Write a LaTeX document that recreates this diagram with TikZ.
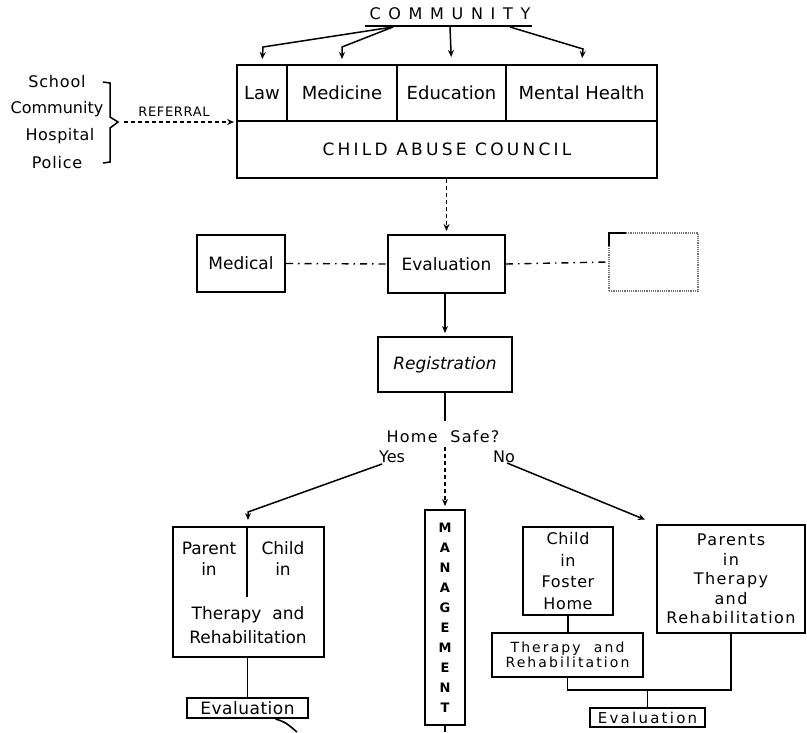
\documentclass[tikz,border=0pt]{standalone}
\usepackage{fontspec}
\setmainfont{DejaVu Sans}
\usetikzlibrary{arrows.meta}
\begin{document}
\begin{tikzpicture}[x=1pt,y=-1pt,
  box/.style={draw, line width=2pt, inner sep=0pt, align=center},
  lbl/.style={inner sep=0pt, align=center},
  ln/.style={line width=1.6pt},
  arr/.style={line width=1.5pt, -{Stealth[length=7pt,width=6pt]}},
  dsh/.style={line width=1.4pt, dash pattern=on 4pt off 3pt},
  dd/.style={line width=1.4pt, dash pattern=on 7pt off 5pt on 1.5pt off 5pt},
  fbig/.style={font=\fontsize{18}{21}\selectfont},
  fmid/.style={font=\fontsize{17}{20}\selectfont},
  fsm/.style={font=\fontsize{15}{18}\selectfont},
]
\useasboundingbox (0,0) rectangle (807,732);

% ---------- top: community ----------
\node[lbl, font=\fontsize{16}{19}\selectfont\addfontfeature{LetterSpace=48}] (comm) at (450,14) {COMMUNITY};
\coordinate (ulA) at (365,26);
\coordinate (ulB) at (532,26);
\draw[line width=1.3pt] (ulA) -- (ulB);
\coordinate (c1) at (393,27);
\coordinate (c2) at (450,27);
\coordinate (c3) at (510,27);
\coordinate (b1) at (263,47);
\coordinate (b2) at (342,47);
\coordinate (b4) at (583,49);

% ---------- council block ----------
\node[box, fbig, minimum width=50, minimum height=56] (law) at (262,93) {Law};
\node[box, fbig, minimum width=110, minimum height=56] (med) at (342,93) {Medicine};
\node[box, fbig, minimum width=109, minimum height=56] (edu) at (451.5,93) {Education};
\node[box, fbig, minimum width=151, minimum height=56] (mh) at (581.5,93) {Mental Health};
\node[box, minimum width=420, minimum height=57,
      font=\fontsize{17}{20}\selectfont\addfontfeature{LetterSpace=19}] (council) at (447,149.5) {CHILD ABUSE COUNCIL};

\draw[arr, shorten >=5pt] (c1) -- (b1) -- (law.north);
\draw[arr, shorten >=5pt] (c1) -- (b2) -- (med.north);
\draw[arr, shorten >=7pt] (c2) -- (edu.north);
\draw[arr, shorten >=6pt] (c3) -- (b4) -- (mh.north);

% ---------- referral sources ----------
\node[lbl, font=\fontsize{16}{19}\selectfont\addfontfeature{LetterSpace=5}] (school) at (57,82) {School};
\node[lbl, font=\fontsize{16}{19}\selectfont] (community) at (57,109) {Community};
\node[lbl, font=\fontsize{16}{19}\selectfont\addfontfeature{LetterSpace=3}] (hospital) at (60,136) {Hospital};
\node[lbl, font=\fontsize{16}{19}\selectfont\addfontfeature{LetterSpace=5}] (police) at (57,163) {Police};
\draw[line width=1.5pt] (103,82) -- (110,83) -- (110,117) -- (118,122) -- (110,128) -- (110,162) -- (103,163);
\coordinate (reftail) at (124,122);
\coordinate (refhead) at (237,122);
\draw[dsh, -{Stealth[length=7pt,width=6pt]}, shorten >=3pt] (reftail) -- (refhead);
\node[lbl, font=\fontsize{13}{15}\selectfont\addfontfeature{LetterSpace=5}] (referral) at (174,112) {REFERRAL};

% ---------- evaluation row ----------
\node[box, fmid, minimum width=88, minimum height=57] (medical) at (241,263.5) {Medical};
\node[box, fmid, minimum width=117, minimum height=58] (eval) at (446.5,264) {Evaluation};
\node[draw=black!55, densely dotted, line width=1.2pt, inner sep=0pt, minimum width=89, minimum height=58] (faint) at (653.5,262) {};
\draw[line width=2.4pt] (609,246) -- (609,233) -- (626,233);
\draw[dsh, -{Stealth[length=7pt,width=6pt]}, shorten >=3pt] (council.south -| eval.north) -- (eval.north);
\draw[dd] (medical.east) -- (eval.west);
\draw[dd] (eval.east) -- (faint.west);

% ---------- registration ----------
\node[box, font=\fontsize{17}{20}\selectfont\itshape, minimum width=134, minimum height=55] (reg) at (445,364.5) {Registration};
\draw[arr, shorten >=3pt] (eval.south -| reg.north) -- (reg.north);
\coordinate (qtop) at (445,421);
\draw[ln] (reg.south) -- (qtop);
\node[lbl, font=\fontsize{16}{19}\selectfont\addfontfeature{LetterSpace=8}] (homesafe) at (443,437) {Home\ \ Safe?};
\node[lbl, font=\fontsize{16}{19}\selectfont] (yes) at (392,457) {Yes};
\node[lbl, font=\fontsize{16}{19}\selectfont] (no) at (504,457) {No};

% ---------- management ----------
\node[box, minimum width=40, minimum height=215,
      font=\fontsize{13}{20}\selectfont\bfseries] (mgmt) at (445,617.5)
      {M\\A\\N\\A\\G\\E\\M\\E\\N\\T};
\coordinate (mtop) at (445,447);
\draw[dsh, -{Stealth[length=7pt,width=6pt]}, shorten >=3pt] (mtop) -- (mgmt.north);
\coordinate (mbot) at (445,732);
\draw[ln] (mgmt.south) -- (mbot);

% ---------- yes branch ----------
\node[box, minimum width=151, minimum height=130] (lbox) at (248.5,592) {};
\coordinate (ldivtop) at (247,527);
\coordinate (ldivbot) at (247,597);
\draw[ln] (ldivtop) -- (ldivbot);
\node[lbl, font=\fontsize{17}{21}\selectfont] (parentin) at (209,559) {Parent\\in};
\node[lbl, font=\fontsize{17}{21}\selectfont] (childin) at (283,559) {Child\\in};
\node[lbl, font=\fontsize{17}{24}\selectfont] (ltr) at (248,625) {Therapy\ \ and\\Rehabilitation};
\coordinate (yesstart) at (382,464);
\coordinate (yesbend) at (248,512);
\draw[arr, shorten >=6pt] (yesstart) -- (yesbend) -- (lbox.north -| yesbend);
\node[box, font=\fontsize{17}{19}\selectfont\addfontfeature{LetterSpace=3}, minimum width=121, minimum height=20] (leval) at (247.5,708) {Evaluation};
\draw[ln] (lbox.south -| leval.north) -- (leval.north);
\coordinate (curveend) at (297,732);
\draw[ln] ([xshift=28pt]leval.south) .. controls (285,722) .. (curveend);

% ---------- no branch ----------
\coordinate (nostart) at (507,463);
\node[box, font=\fontsize{16}{19.5}\selectfont\addfontfeature{LetterSpace=9}, minimum width=148, minimum height=108, line width=1.6pt] (parents) at (731,579)
      {Parents\\in\\Therapy\\and\\Rehabilitation};
\draw[arr, shorten >=12pt] (nostart) -- (parents.north west);
\node[box, font=\fontsize{16}{21.5}\selectfont\addfontfeature{LetterSpace=4}, minimum width=90, minimum height=88] (foster) at (568,571)
      {Child\\in\\Foster\\Home};
\node[box, font=\fontsize{14}{15}\selectfont\addfontfeature{LetterSpace=15}, minimum width=151, minimum height=44] (rther) at (567.5,655)
      {Therapy\ \ and\\Rehabilitation};
\draw[ln] (foster.south) -- (rther.north -| foster.south);
\node[box, font=\fontsize{15}{17}\selectfont\addfontfeature{LetterSpace=15}, minimum width=115, minimum height=19] (reval) at (647.5,717.5) {Evaluation};
\coordinate (bus) at (647.5,690);
\draw[ln] (rther.south) |- (bus) -| (parents.south);
\draw[ln] (bus) -- (reval.north);
\end{tikzpicture}
\end{document}
